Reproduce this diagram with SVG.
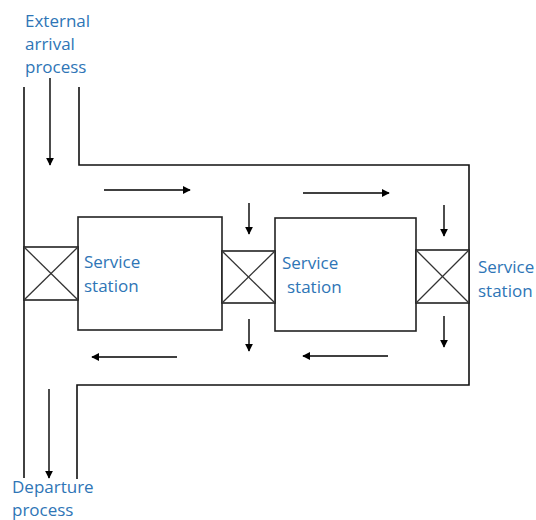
<svg xmlns="http://www.w3.org/2000/svg" width="536" height="520" viewBox="0 0 536 520">
  <style>
    .wall { fill: none; stroke: #111; stroke-width: 1.6; }
    .box { fill: #fff; stroke: #222; stroke-width: 1.6; }
    .cross { stroke: #333; stroke-width: 1.3; }
    .flow { stroke: #000; stroke-width: 1.4; fill: none; marker-end: url(#head); }
    .lbl { font-family: "Open Sans", "Noto Sans", sans-serif; font-size: 17px; fill: #2e75b6; }
  </style>
  <defs>
    <marker id="head" viewBox="0 0 10 10" refX="9" refY="5" markerWidth="8" markerHeight="8" markerUnits="userSpaceOnUse" orient="auto">
      <path d="M0,0 L10,5 L0,10 z" fill="#000"/>
    </marker>
  </defs>
  <rect width="536" height="520" fill="#fff"/>

  <!-- channel walls -->
  <g id="walls">
    <line class="wall" x1="24" y1="87" x2="24" y2="478"/>
    <polyline class="wall" points="79,87 79,165 469,165 469,385 77,385 77,479"/>
    <rect class="box" x="78" y="217" width="144" height="113"/>
    <rect class="box" x="275" y="218" width="141" height="113"/>
  </g>

  <!-- service stations -->
  <g id="station1">
    <rect class="box" x="24" y="247" width="54" height="53"/>
    <line class="cross" x1="24" y1="247" x2="78" y2="300"/>
    <line class="cross" x1="78" y1="247" x2="24" y2="300"/>
    <text class="lbl" x="84" y="268">Service</text>
    <text class="lbl" x="84" y="292">station</text>
  </g>
  <g id="station2">
    <rect class="box" x="222" y="251" width="53" height="52"/>
    <line class="cross" x1="222" y1="251" x2="275" y2="303"/>
    <line class="cross" x1="275" y1="251" x2="222" y2="303"/>
    <text class="lbl" x="282" y="269">Service</text>
    <text class="lbl" x="287" y="293">station</text>
  </g>
  <g id="station3">
    <rect class="box" x="416" y="250" width="53" height="53"/>
    <line class="cross" x1="416" y1="250" x2="469" y2="303"/>
    <line class="cross" x1="469" y1="250" x2="416" y2="303"/>
    <text class="lbl" x="478" y="273">Service</text>
    <text class="lbl" x="478" y="297">station</text>
  </g>

  <!-- external labels -->
  <g id="arrival">
    <text class="lbl" x="25" y="27">External</text>
    <text class="lbl" x="25" y="50">arrival</text>
    <text class="lbl" x="25" y="73">process</text>
  </g>
  <g id="departure">
    <text class="lbl" x="12" y="493">Departure</text>
    <text class="lbl" x="12" y="516">process</text>
  </g>

  <!-- flow arrows -->
  <g id="connectors">
    <line class="flow" x1="50" y1="78" x2="50" y2="165"/>
    <line class="flow" x1="104" y1="190" x2="190" y2="190"/>
    <line class="flow" x1="303" y1="193" x2="389" y2="193"/>
    <line class="flow" x1="249" y1="203" x2="249" y2="234"/>
    <line class="flow" x1="444" y1="205" x2="444" y2="236"/>
    <line class="flow" x1="249" y1="319" x2="249" y2="351"/>
    <line class="flow" x1="444" y1="316" x2="444" y2="347"/>
    <line class="flow" x1="177" y1="357" x2="92" y2="357"/>
    <line class="flow" x1="388" y1="356" x2="303" y2="356"/>
    <line class="flow" x1="49" y1="389" x2="49" y2="478"/>
  </g>
</svg>
